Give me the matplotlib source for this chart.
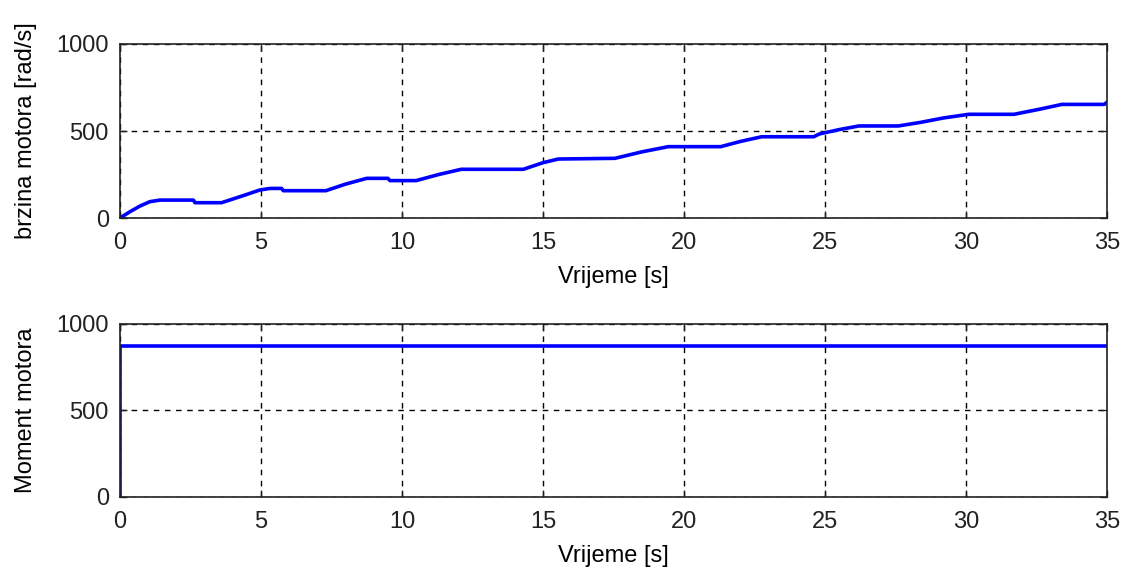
import matplotlib
matplotlib.use("Agg")
import matplotlib.pyplot as plt

plt.rcParams['font.family'] = ['Liberation Sans', 'DejaVu Sans']

# Speed curve (time [s], speed [rad/s])
t_speed = [0, 0.35, 0.71, 1.06, 1.42, 2.6, 2.66, 3.6, 4.3, 4.96, 5.32, 5.73, 5.79, 7.3, 8.0,
           8.75, 9.5, 9.57, 10.5, 11.3, 12.1, 14.3, 15.0, 15.54, 17.55, 18.5, 19.44, 21.3,
           22.0, 22.75, 24.6, 24.8, 25.5, 26.2, 27.6, 28.4, 29.2, 30.1, 31.7, 32.6, 33.4,
           34.9, 35.0]
v_speed = [0, 36, 69, 94, 103, 103, 88, 88, 125, 161, 170, 170, 157, 157, 195,
           228, 228, 215, 215, 250, 280, 280, 318, 339, 343, 380, 410, 410,
           440, 467, 467, 483, 508, 529, 529, 550, 575, 596, 596, 625, 653,
           653, 665]

# Motor torque
t_moment = [0, 0, 35]
m_moment = [0, 875, 875]

xticks = [0, 5, 10, 15, 20, 25, 30, 35]
yticks = [0, 500, 1000]

fig = plt.figure(figsize=(11.27, 5.67), dpi=100)
ax1 = fig.add_axes([0.1065, 0.6155, 0.8758, 0.3069])
ax2 = fig.add_axes([0.1065, 0.1235, 0.8758, 0.3051])

fs = 17
for ax, x, y, yl in [(ax1, t_speed, v_speed, 'brzina motora [rad/s]'),
                     (ax2, t_moment, m_moment, 'Moment motora')]:
    ax.plot(x, y, color='#0000ff', linewidth=2.6)
    ax.set_xlim(0, 35)
    ax.set_ylim(0, 1000)
    ax.set_xticks(xticks)
    ax.set_yticks(yticks)
    ax.grid(True, color='black', linestyle=(0, (4, 4)), linewidth=1.0)
    ax.tick_params(direction='in', top=True, right=True, length=5, width=1,
                   labelsize=fs, colors='#222222')
    ax.tick_params(axis='x', pad=10)
    ax.tick_params(axis='y', pad=8)
    for s in ax.spines.values():
        s.set_color('#222222')
        s.set_linewidth(1.2)
    ax.set_xlabel('Vrijeme [s]', fontsize=fs, labelpad=9)
    ax.set_ylabel(yl, fontsize=fs, labelpad=14)

fig.savefig('out.png', dpi=100)
